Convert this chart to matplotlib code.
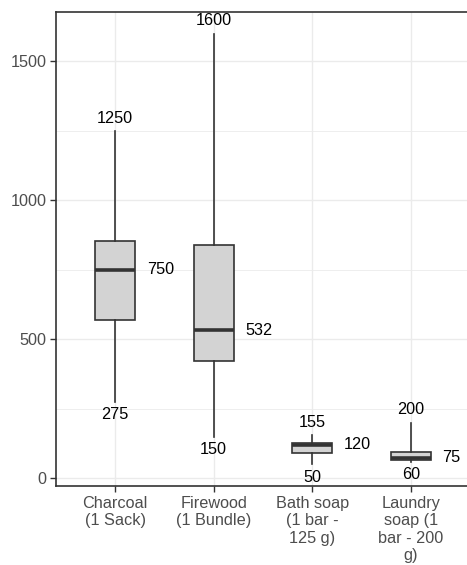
import matplotlib.pyplot as plt
from matplotlib.ticker import MultipleLocator

# price ranges per item
categories = ["Charcoal\n(1 Sack)", "Firewood\n(1 Bundle)",
              "Bath soap\n(1 bar -\n125 g)", "Laundry\nsoap (1\nbar - 200\ng)"]
mins = [275, 150, 50, 60]
q1s = [568, 421, 92, 66]
medians = [750, 532, 120, 75]
q3s = [852, 841, 127, 95]
maxs = [1250, 1600, 155, 200]

plt.rcParams['font.family'] = ['Liberation Sans', 'DejaVu Sans']
fs = 11.7

fig = plt.figure(figsize=(4.67, 5.65), dpi=100)
ax = fig.add_axes([56 / 467, 1 - 486 / 565, 414 / 467, 474 / 565])

stats = []
for i in range(len(categories)):
    stats.append({"whislo": mins[i], "q1": q1s[i], "med": medians[i],
                  "q3": q3s[i], "whishi": maxs[i], "fliers": []})

dark = "#333333"
pos = list(range(1, len(categories) + 1))
ax.bxp(stats, positions=pos, widths=0.41, patch_artist=True, showcaps=False,
       boxprops=dict(facecolor="#D3D3D3", edgecolor=dark, linewidth=1.2),
       medianprops=dict(color=dark, linewidth=2.6, solid_capstyle="butt"),
       whiskerprops=dict(color=dark, linewidth=1.2), zorder=3)

for x, lo, md, hi in zip(pos, mins, medians, maxs):
    ax.annotate(str(hi), (x, hi), xytext=(0, 9.2), textcoords="offset points",
                ha="center", va="center", fontsize=fs, color="black")
    ax.annotate(str(lo), (x, lo), xytext=(0, -9.4), textcoords="offset points",
                ha="center", va="center", fontsize=fs, color="black")
    ax.text(x + 0.32, md, str(md), ha="left", va="center", fontsize=fs,
            color="black")

ax.set_xlim(0.4, 4.6)
ax.set_ylim(-27.5, 1677.5)
ax.set_xticks(pos)
ax.set_xticklabels(categories)
ax.yaxis.set_major_locator(MultipleLocator(500))
ax.yaxis.set_minor_locator(MultipleLocator(250))

ax.grid(True, which="major", color="#EBEBEB", linewidth=1.0, zorder=0)
ax.grid(True, which="minor", axis="y", color="#EBEBEB", linewidth=0.6, zorder=0)
ax.set_axisbelow(True)

ax.tick_params(axis="both", which="major", length=4, width=1, color=dark,
               labelsize=fs, labelcolor="#4D4D4D", pad=3)
ax.tick_params(axis="y", which="minor", length=0)
for s in ax.spines.values():
    s.set_color(dark)
    s.set_linewidth(1.2)

fig.savefig("out.png", dpi=100)
